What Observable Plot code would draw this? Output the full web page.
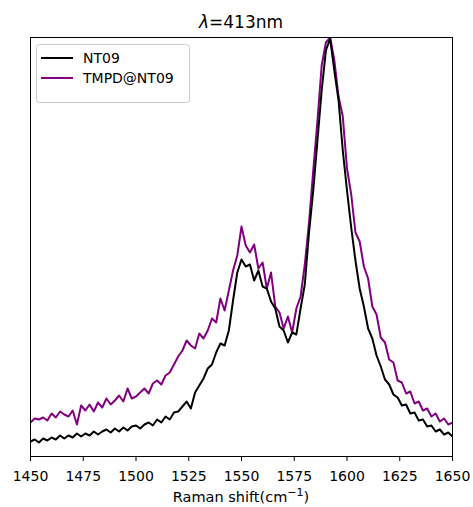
<!DOCTYPE html>
<html><head><meta charset="utf-8">
<script src="https://cdn.jsdelivr.net/npm/d3@7"></script>
<script src="https://cdn.jsdelivr.net/npm/@observablehq/plot@0.6"></script>
<style>body{margin:0;background:#fff;}</style>
</head><body><div id="chart"></div>
<script>
// Raman shift (cm^-1)
const shift = [1450,1452,1454,1456,1458,1460,1462,1464,1466,1468,1470,1472,1474,1476,1478,1480,1482,1484,1486,1488,1490,1492,1494,1496,1498,1500,1502,1504,1506,1508,1510,1512,1514,1516,1518,1520,1522,1524,1526,1528,1530,1532,1534,1536,1538,1540,1542,1544,1546,1548,1550,1552,1554,1556,1558,1560,1562,1564,1566,1568,1570,1572,1574,1576,1578,1580,1582,1584,1586,1588,1590,1592,1594,1596,1598,1600,1602,1604,1606,1608,1610,1612,1614,1616,1618,1620,1622,1624,1626,1628,1630,1632,1634,1636,1638,1640,1642,1644,1646,1648,1650];
// Intensity (a.u.) NT09
const nt09 = [15,17,14,18,16,19,17,21,18,21,19,23,20,23,21,25,22,25,27,24,28,25,29,26,30,31,28,32,34,31,37,34,40,37,44,45,50,55,48,64,71,78,88,92,104,113,111,126,156,184,197,190,192,176,186,170,168,155,148,130,126,114,124,122,148,172,224,266,316,366,406,418,386,356,306,266,229,196,168,150,128,118,101,90,77,72,62,59,51,52,43,44,36,37,30,31,25,27,22,24,20];
// Intensity (a.u.) TMPD@NT09
const tmpd = [34,38,37,39,36,43,39,45,42,40,46,32,51,46,52,45,54,49,58,52,56,61,55,68,58,60,64,68,63,73,76,72,81,84,92,100,106,116,111,108,123,118,126,138,134,158,146,166,186,201,230,211,204,212,188,194,168,184,150,144,128,140,124,148,160,192,234,286,336,391,414,419,396,360,340,288,262,224,215,190,178,150,142,119,114,97,94,76,74,63,65,53,55,46,48,40,43,35,38,32,34];
const xTicks = [1450,1475,1500,1525,1550,1575,1600,1625,1650];
const seriesNames = ["NT09","TMPD@NT09"];
const seriesColors = ["black","purple"];
const yDomain = [0,419];

const data = [];
shift.forEach((x,i)=>data.push({x, y: tmpd[i], s: "TMPD@NT09"}));
shift.forEach((x,i)=>data.push({x, y: nt09[i], s: "NT09"}));

const W = 473, H = 507, mL = 30, mR = 21, mT = 37, mB = 51;
const plot = Plot.plot({
  width: W, height: H, marginTop: mT, marginBottom: mB, marginLeft: mL, marginRight: mR,
  style: {fontFamily: "DejaVu Sans", fontSize: "14px", background: "white", color: "black"},
  x: {domain: [1450,1650]},
  y: {domain: yDomain, axis: null},
  color: {domain: seriesNames, range: seriesColors},
  marks: [
    Plot.axisX({ticks: xTicks, tickFormat: d => String(d), tickSize: 5, tickPadding: 10, label: null, fontSize: 14}),
    Plot.lineY(data, {x: "x", y: "y", z: "s", stroke: "s", strokeWidth: 2, clip: true}),
    Plot.frame({stroke: "black", strokeWidth: 1})
  ]
});
document.getElementById("chart").appendChild(plot);

const svg = d3.select(plot);
const cx = mL + (W - mL - mR) / 2;
// title
const t = svg.append("text").attr("x", cx).attr("y", 28).attr("text-anchor", "middle")
  .attr("font-family", "DejaVu Sans").attr("font-size", 17).attr("fill", "black");
t.append("tspan").attr("font-style", "italic").text("λ");
t.append("tspan").text("=413nm");
// x label
const xl = svg.append("text").attr("x", cx).attr("y", 502).attr("text-anchor", "middle")
  .attr("font-family", "DejaVu Sans").attr("font-size", 14.5).attr("fill", "black");
xl.append("tspan").text("Raman shift(cm");
xl.append("tspan").attr("font-size", 11).attr("dy", -6).text("−1");
xl.append("tspan").attr("dy", 6).text(")");
// legend
const lg = svg.append("g");
lg.append("rect").attr("x", 36.5).attr("y", 44.5).attr("width", 153).attr("height", 58).attr("rx", 3)
  .attr("fill", "white").attr("fill-opacity", 0.8).attr("stroke", "#cccccc");
seriesNames.forEach((name, i) => {
  const yy = 58 + i * 20;
  lg.append("line").attr("x1", 41).attr("x2", 73).attr("y1", yy).attr("y2", yy)
    .attr("stroke", seriesColors[i]).attr("stroke-width", 2);
  lg.append("text").attr("x", 83).attr("y", yy + 5).attr("text-anchor", "start").attr("font-family", "DejaVu Sans")
    .attr("font-size", 14).attr("fill", "black").text(name);
});
</script>
</body></html>
